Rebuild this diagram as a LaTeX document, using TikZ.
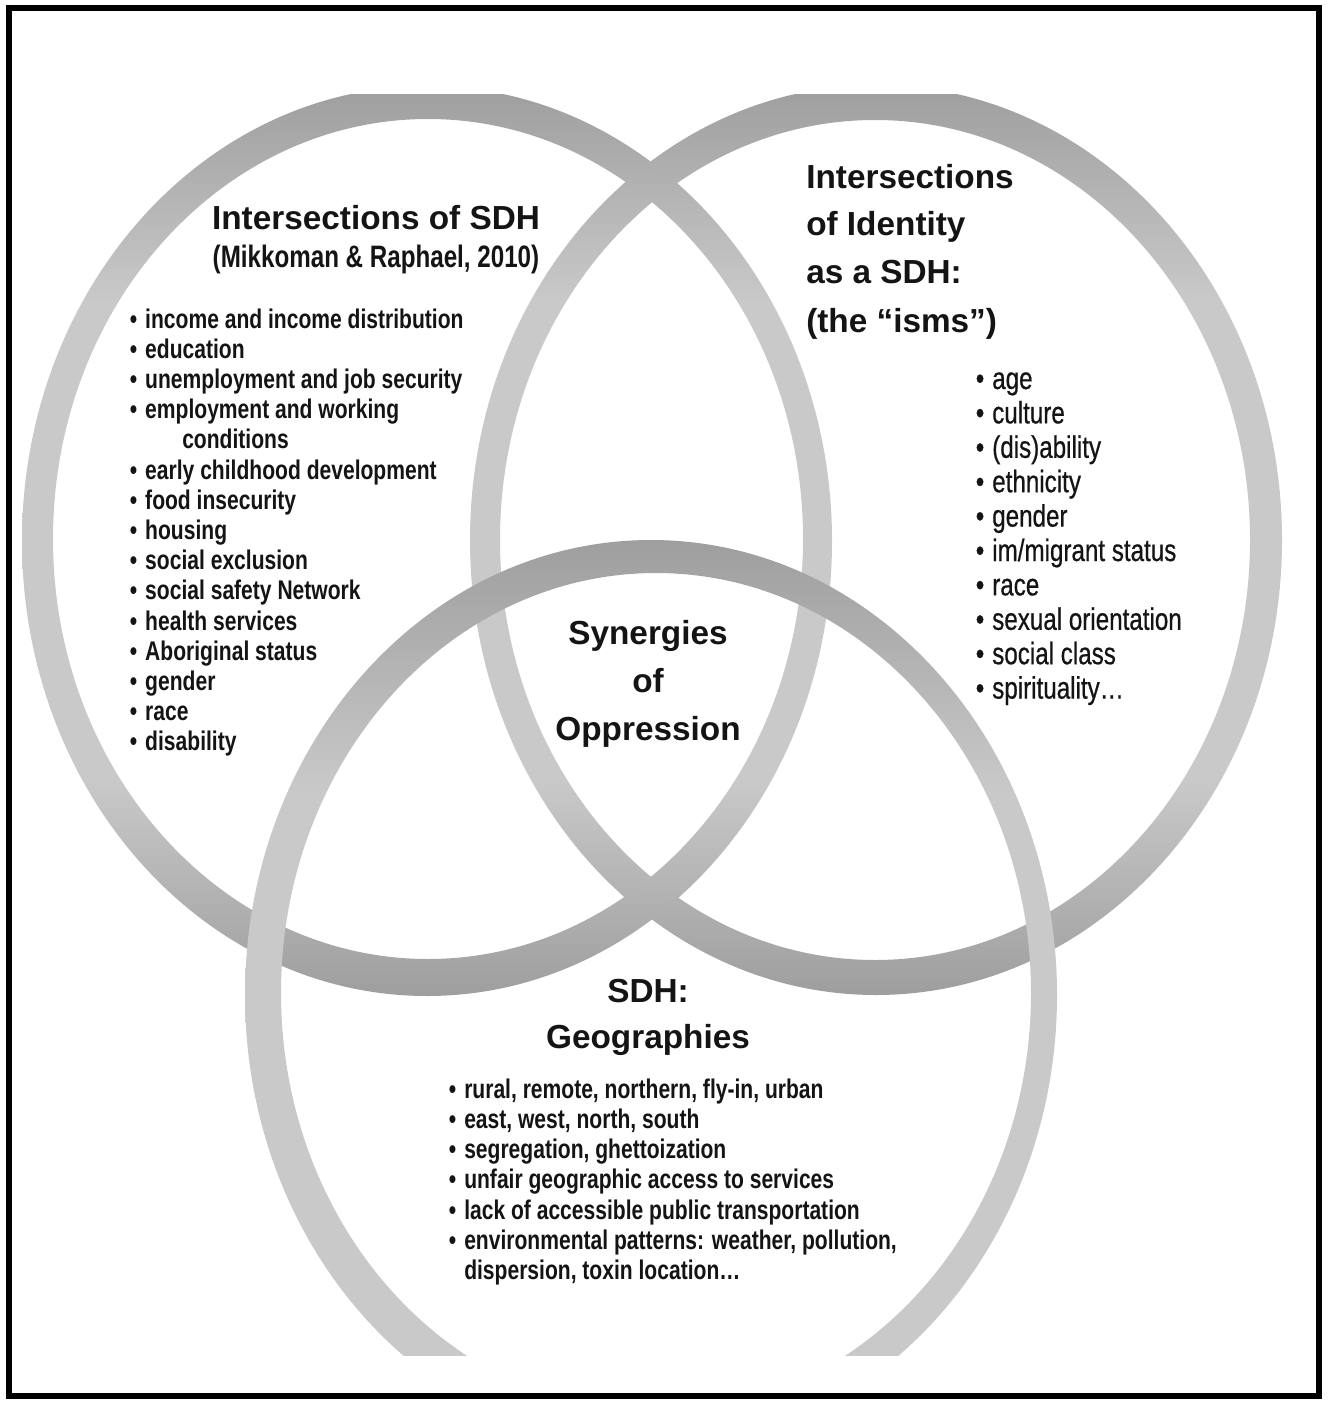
\documentclass[tikz,border=0pt]{standalone}
\usepackage{fontspec}
\setmainfont{Liberation Sans}
\newfontfamily\narrowf[FakeStretch=0.78]{Liberation Sans}
\newfontfamily\narrowm[FakeStretch=0.78,FakeBold=0.6]{Liberation Sans}
\definecolor{rd}{gray}{0.62}
\definecolor{rl}{gray}{0.79}
\definecolor{txt}{gray}{0.08}
\pgfdeclareverticalshading{ringAB}{100bp}{color(0bp)=(rd); color(25bp)=(rd); color(37bp)=(rl); color(63bp)=(rl); color(75bp)=(rd); color(100bp)=(rd)}
\pgfdeclareverticalshading{ringT}{100bp}{color(0bp)=(rl); color(25bp)=(rl); color(61bp)=(rl); color(75bp)=(rd); color(100bp)=(rd)}
\newcommand\mybul{\llap{\textbullet\hspace{6pt}}}
\tikzset{
  ttl/.style={font=\bfseries\fontsize{25}{30}\selectfont, inner sep=0pt, text=txt, anchor=base},
  ttlw/.style={font=\bfseries\fontsize{25}{30}\selectfont, inner sep=0pt, text=txt, anchor=base west},
  cite/.style={font=\narrowf\bfseries\fontsize{23.25}{28}\selectfont, inner sep=0pt, text=txt, anchor=base},
  litem/.style={font=\narrowf\bfseries\fontsize{20.25}{24}\selectfont, inner sep=0pt, text=txt, anchor=base west},
  ritem/.style={font=\narrowm\fontsize{23.25}{27}\selectfont, inner sep=0pt, text=txt, anchor=base west},
}
\begin{document}
\begin{tikzpicture}[x=0.75pt,y=-0.75pt]
\fill[white] (0,0) rectangle (1327,1401);
\useasboundingbox (0,0) rectangle (1327,1401);
% rings
\begin{scope}
\clip (0,95) rectangle (1327,1355);
\shade[shading=ringAB, even odd rule]
  (876,540) ellipse [x radius=304.5pt, y radius=341.25pt]
  (875,540) ellipse [x radius=281.25pt, y radius=315pt];
\shade[shading=ringAB, even odd rule]
  (427,541) ellipse [x radius=303.75pt, y radius=341.25pt]
  (428,539) ellipse [x radius=281.25pt, y radius=315pt];
\shade[shading=ringT, even odd rule]
  (651,995) ellipse [x radius=304.5pt, y radius=341.25pt]
  (656,993) ellipse [x radius=281.25pt, y radius=315pt];
\end{scope}
% frame
\draw[line width=4.5pt] (9,8) rectangle (1319,1396);
% left circle texts
\node[ttl] (t1) at (376,230) {Intersections of SDH};
\node[cite] (t1c) at (376,268) {(Mikkoman \& Raphael, 2010)};
\foreach \t [count=\i from 0] in {income and income distribution, education, unemployment and job security, employment and working}
  \node[litem] (l\i) at (145,{328+30.2*\i}) {\mybul\t};
\node[litem] (l4) at (182,{328+30.2*4}) {conditions};
\foreach \t [count=\i from 5] in {early childhood development, food insecurity, housing, social exclusion, social safety Network, health services, Aboriginal status, gender, race, disability}
  \node[litem] (l\i) at (145,{328+30.2*\i}) {\mybul\t};
% right circle texts
\node[ttlw] (r1) at (806,189) {Intersections};
\node[ttlw] (r2) at (806,236) {of Identity};
\node[ttlw] (r3) at (806,284) {as a SDH:};
\node[ttlw] (r4) at (806,332) {(the “isms”)};
\foreach \t [count=\i from 0] in {age, culture, (dis)ability, ethnicity, gender, im/migrant status, race, sexual orientation, social class, {spirituality\ldots}}
  \node[ritem] (ri\i) at (992,{389+34.4*\i}) {\mybul\t};
% centre
\node[ttl] (c1) at (648,644) {Synergies};
\node[ttl] (c2) at (648,692) {of};
\node[ttl] (c3) at (648,740) {Oppression};
% bottom circle texts
\node[ttl] (b1) at (648,1002) {SDH:};
\node[ttl] (b2) at (648,1048) {Geographies};
\foreach \t [count=\i from 0] in {{rural, remote, northern, fly-in, urban}, {east, west, north, south}, {segregation, ghettoization}, unfair geographic access to services, lack of accessible public transportation, {environmental patterns: weather, pollution,}}
  \node[litem] (bi\i) at (464,{1098+30.3*\i}) {\mybul\t};
\node[litem] (bi6) at (464,{1098+30.3*6}) {dispersion, toxin location\ldots};
\end{tikzpicture}
\end{document}
